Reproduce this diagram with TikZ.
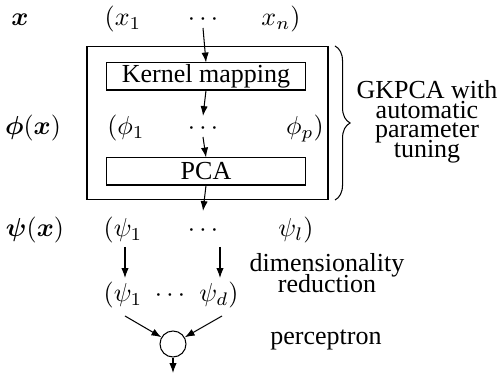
\documentclass[tikz,border=0pt]{standalone}
\usepackage{bm}
\usepackage{fontspec}
\setmainfont{Liberation Serif}
\newfontfamily\tms{Liberation Serif}
\usetikzlibrary{arrows.meta,decorations.pathreplacing}
\begin{document}
\begin{tikzpicture}[x=0.3846pt,y=-0.3846pt,
  every node/.style={inner sep=0pt},
  mrow/.style={text height=0.75em,text depth=0.25em},
  lbl/.style={anchor=base,font=\tms\fontsize{10}{12}\selectfont},
  boxn/.style={draw,minimum width=76.9pt,minimum height=10.4pt,font=\tms\fontsize{10}{12}\selectfont},
  arr/.style={-{Latex[length=3.8pt,width=2.8pt]}},
]
\useasboundingbox (0,0) rectangle (503,378);
% outer GKPCA box
\node[draw,minimum width=92.7pt,minimum height=58.5pt] (gk) at (207.5,123) {};
% row x
\node[mrow] (xl) at (20,19) {$\bm{x}$};
\node[mrow] (x1) at (123,19) {$(x_1$};
\node[mrow] (xd) at (203,19) {$\cdots$};
\node[mrow] (xn) at (281,19) {$x_n)$};
% kernel mapping
\node[boxn] (km) at (206,76.5) {Kernel mapping};
% row phi
\node[mrow] (pl) at (33,128) {$\bm{\phi}(\bm{x})$};
\node[mrow] (p1) at (126,128) {$(\phi_1$};
\node[mrow] (pd) at (203,128) {$\cdots$};
\node[mrow] (pp) at (305,128) {$\phi_p)$};
% PCA
\node[boxn] (pca) at (206,171.5) {PCA};
% row psi
\node[mrow] (sl) at (35,230) {$\bm{\psi}(\bm{x})$};
\node[mrow] (s1) at (123,230) {$(\psi_1$};
\node[mrow] (sd) at (203,230) {$\cdots$};
\node[mrow] (sn) at (296,230) {$\psi_l)$};
% reduced row
\node[mrow] (r1) at (123,295) {$(\psi_1$};
\node[mrow] (rd) at (170,295) {$\cdots$};
\node[mrow] (rn) at (219,295) {$\psi_d)$};
% perceptron
\node[draw,circle,minimum size=10pt] (pc) at (173,344) {};
\coordinate (out) at (173,373);
% labels
\node[lbl] (gk1) at (427,99) {GKPCA with};
\node[lbl] (gk2) at (427,119) {automatic};
\node[lbl] (gk3) at (427,138) {parameter};
\node[lbl] (gk4) at (427,158) {tuning};
\node[lbl] (dr1) at (327,272) {dimensionality};
\node[lbl] (dr2) at (327,293) {reduction};
\node[lbl] (pt) at (326,345) {perceptron};
% arrows
\coordinate (a1s) at (203,28);
\coordinate (a2e) at (203,116);
\coordinate (a3s) at (203,137);
\coordinate (a4e) at (203,211);
\draw[arr] (a1s) -- (km.north);
\draw[arr] (km.south) -- (a2e);
\draw[arr] (a3s) -- (pca.north);
\draw[arr] (pca.south) -- (a4e);
\coordinate (b1s) at (125,247);
\coordinate (b1e) at (125,278);
\coordinate (b2s) at (220,247);
\coordinate (b2e) at (220,278);
\draw[arr] (b1s) -- (b1e);
\draw[arr] (b2s) -- (b2e);
\coordinate (c1s) at (125,316);
\coordinate (c2s) at (222,316);
\draw[arr] (c1s) -- (pc);
\draw[arr] (c2s) -- (pc);
\draw[arr] (pc.south) -- (out);
% brace
\coordinate (bt) at (335,46);
\coordinate (bb) at (335,200);
\draw[decorate,decoration={brace,amplitude=5.8pt}] (bt) -- (bb);
\end{tikzpicture}
\end{document}
